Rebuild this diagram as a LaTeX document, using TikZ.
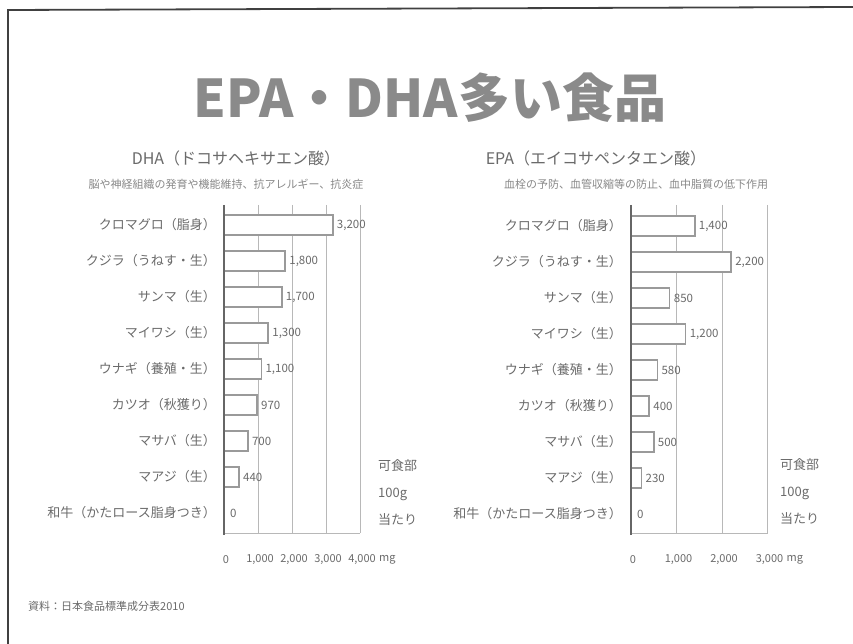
\documentclass[tikz,border=0pt]{standalone}
\usepackage{fontspec}
\setmainfont{Noto Sans CJK JP}
\usetikzlibrary{positioning}
\definecolor{inkgray}{HTML}{6A6A6A}
\definecolor{titlegray}{HTML}{8A8A8A}
\definecolor{linegray}{HTML}{9A9A9A}
\tikzset{
  charttitle/.style={inner sep=0pt, text=inkgray, font=\fontsize{16}{19}\selectfont},
  subtitle/.style={inner sep=0pt, text=inkgray!80, font=\fontsize{11}{13}\selectfont},
  rowlabel/.style={anchor=east, inner sep=0pt, text=inkgray, font=\fontsize{13}{15}\selectfont},
  vallabel/.style={anchor=west, inner sep=0pt, text=inkgray, font=\fontsize{11.5}{13}\selectfont},
  ticklabel/.style={inner sep=0pt, text=inkgray, font=\fontsize{11}{13}\selectfont},
  unitlabel/.style={anchor=west, align=left, inner sep=0pt, text=inkgray, font=\fontsize{13}{27}\selectfont},
  barbox/.style={draw=linegray, fill=white, line width=1.6pt},
  gridline/.style={draw=linegray!70, line width=0.7pt},
  axisline/.style={draw=black!60, line width=1.4pt}
}
\begin{document}
\begin{tikzpicture}[x=1pt,y=-1pt]
\useasboundingbox (0,0) rectangle (853,644);
% frame
\draw[line width=1.8pt, draw=black!75] (8,644) -- (8,10) -- (853,7);
\node[text=titlegray, font=\fontsize{52}{58}\selectfont\bfseries] (title) at (430,98) {EPA・DHA多い食品};

% DHA
\node[charttitle] (dhatitle) at (236,158) {DHA（ドコサヘキサエン酸）};
\node[subtitle] (dhasub) at (226,184) {脳や神経組織の発育や機能維持、抗アレルギー、抗炎症};
\foreach \g in {1,...,4}
  \draw[gridline] (224+34*\g,205) -- (224+34*\g,533);
\draw[gridline] (224,533) -- (360,533);
\foreach \v/\t [count=\i from 0] in {3200/{3,200},1800/{1,800},1700/{1,700},1300/{1,300},1100/{1,100},970/970,700/700,440/440} {
  \pgfmathsetmacro\y{225+36*\i}
  \pgfmathsetmacro\x{224+0.034*\v}
  \draw[barbox] (224,\y-10) rectangle (\x,\y+10);
  \node[vallabel] (dhaval\i) at (\x+4,\y) {\t};
}
\node[vallabel] (dhaval8) at (230,513) {0};
\draw[axisline] (224,205) -- (224,535);
\foreach \n [count=\i from 0] in {クロマグロ（脂身）,クジラ（うねす・生）,サンマ（生）,マイワシ（生）,ウナギ（養殖・生）,カツオ（秋獲り）,マサバ（生）,マアジ（生）,和牛（かたロース脂身つき）}
  \node[rowlabel] (dharow\i) at (216,225+36*\i) {\n};
\foreach \g/\t in {0/0,1/{1,000},2/{2,000},3/{3,000},4/{4,000}}
  \node[ticklabel] (dhatick\g) at (226+34*\g,560) {\t};
\node[ticklabel, right=3pt of dhatick4] (dhamg) {mg};
\node[unitlabel] (dhaunit) at (378,493) {可食部\\100g\\当たり};

% EPA
\node[charttitle] (epatitle) at (596,158) {EPA（エイコサペンタエン酸）};
\node[subtitle] (epasub) at (636,184) {血栓の予防、血管収縮等の防止、血中脂質の低下作用};
\foreach \g in {1,...,3}
  \draw[gridline] (631+45.5*\g,205) -- (631+45.5*\g,533);
\draw[gridline] (631,533) -- (768,533);
\foreach \v/\t [count=\i from 0] in {1400/{1,400},2200/{2,200},850/850,1200/{1,200},580/580,400/400,500/500,230/230} {
  \pgfmathsetmacro\y{226+36*\i}
  \pgfmathsetmacro\x{631+0.0455*\v}
  \draw[barbox] (631,\y-10) rectangle (\x,\y+10);
  \node[vallabel] (epaval\i) at (\x+4,\y) {\t};
}
\node[vallabel] (epaval8) at (637,514) {0};
\draw[axisline] (631,205) -- (631,535);
\foreach \n [count=\i from 0] in {クロマグロ（脂身）,クジラ（うねす・生）,サンマ（生）,マイワシ（生）,ウナギ（養殖・生）,カツオ（秋獲り）,マサバ（生）,マアジ（生）,和牛（かたロース脂身つき）}
  \node[rowlabel] (eparow\i) at (622,226+36*\i) {\n};
\foreach \g/\t in {0/0,1/{1,000},2/{2,000},3/{3,000}}
  \node[ticklabel] (epatick\g) at (633+45.5*\g,560) {\t};
\node[ticklabel, right=3pt of epatick3] (epamg) {mg};
\node[unitlabel] (epaunit) at (780,492) {可食部\\100g\\当たり};

\node[anchor=west, inner sep=0pt, text=inkgray, font=\fontsize{11}{13}\selectfont] (source) at (28,606) {資料：日本食品標準成分表2010};
\end{tikzpicture}
\end{document}
